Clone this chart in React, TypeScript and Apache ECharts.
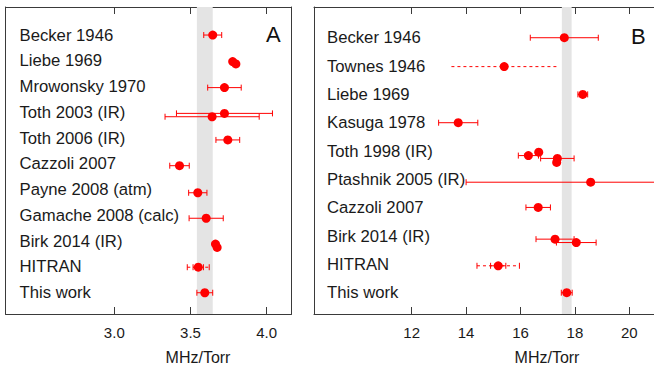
import React, { useEffect, useRef } from "react";
import * as echarts from "echarts";

// ---------- Panel A (MHz/Torr, ~3-4) ----------
const namesA = [
  "Becker 1946",
  "Liebe 1969",
  "Mrowonsky 1970",
  "Toth 2003 (IR)",
  "Toth 2006 (IR)",
  "Cazzoli 2007",
  "Payne 2008 (atm)",
  "Gamache 2008 (calc)",
  "Birk 2014 (IR)",
  "HITRAN",
  "This work",
];
const aValues = [3.646, 3.777, 3.798, 3.723, 3.723, 3.642, 3.745, 3.428, 3.548, 3.603, 3.664, 3.675, 3.551, 3.594];
const aRows = [11.0, 9.97, 9.88, 8.96, 7.96, 7.83, 6.93, 5.93, 4.88, 3.89, 2.89, 2.76, 1.99, 1.0];
const aErrors = [0.059, 0, 0, 0.11, 0.315, 0.309, 0.078, 0.064, 0.06, 0.112, 0, 0, 0.034, 0.052];
const aDashValues = [3.551];
const aDashRows = [1.99];
const aDashErrors = [0.072];
const aDashCaps = [1];
const aBand = [3.542, 3.646];
const aTicks = [3.0, 3.5, 4.0];

// ---------- Panel B (MHz/Torr, ~12-20) ----------
const namesB = [
  "Becker 1946",
  "Townes 1946",
  "Liebe 1969",
  "Kasuga 1978",
  "Toth 1998 (IR)",
  "Ptashnik 2005 (IR)",
  "Cazzoli 2007",
  "Birk 2014 (IR)",
  "HITRAN",
  "This work",
];
const bValues = [17.61, 15.4, 18.29, 13.71, 16.29, 16.67, 17.355, 17.33, 18.58, 16.65, 17.27, 18.05, 15.18, 17.7];
const bRows = [10.0, 8.98, 8.0, 7.0, 5.84, 5.96, 5.74, 5.6, 4.9, 4.01, 2.89, 2.77, 1.95, 1.0];
const bErrors = [1.25, 0, 0.18, 0.72, 0.37, 0, 0.615, 0, 4.58, 0.45, 0.7, 0.73, 0.28, 0.2];
const bDashValues = [15.4, 15.18];
const bDashRows = [8.98, 1.95];
const bDashErrors = [1.94, 0.78];
const bDashCaps = [0, 1];
const bBand = [17.52, 17.88];
const bTicks = [12, 14, 16, 18, 20];

const axisColor = "#3a3a3a";
const textColor = "#1a1a1a";
const font = "Liberation Sans, Arial, sans-serif";

function makeErrRender(dashed: boolean) {
  return (params: any, api: any) => {
    const x = api.value(0);
    const y = api.value(1);
    const e = api.value(2);
    const cap = api.value(3);
    if (!e) return { type: "group", children: [] };
    const p1 = api.coord([x - e, y]);
    const p2 = api.coord([x + e, y]);
    const style: any = { stroke: "#ff0000", lineWidth: 1, fill: null };
    if (dashed) style.lineDash = [3, 3];
    const children: any[] = [
      { type: "line", shape: { x1: p1[0], y1: p1[1], x2: p2[0], y2: p2[1] }, style },
    ];
    if (cap) {
      const h = 3;
      const cs = { stroke: "#ff0000", lineWidth: 1 };
      children.push({ type: "line", shape: { x1: p1[0], y1: p1[1] - h, x2: p1[0], y2: p1[1] + h }, style: cs });
      children.push({ type: "line", shape: { x1: p2[0], y1: p2[1] - h, x2: p2[0], y2: p2[1] + h }, style: cs });
    }
    return { type: "group", children };
  };
}

export default function App() {
  const ref = useRef<HTMLDivElement>(null);
  useEffect(() => {
    if (!ref.current) return;
    const prevOverflow = document.body.style.overflow;
    document.body.style.overflow = "hidden";
    const chart = echarts.init(ref.current, undefined, { renderer: "svg" });

    const aPoints = aValues.map((v, i) => [v, aRows[i]]);
    const aErr = aValues.map((v, i) => [v, aRows[i], aErrors[i], 1]);
    const aDash = aDashValues.map((v, i) => [v, aDashRows[i], aDashErrors[i], aDashCaps[i]]);
    const bPoints = bValues.map((v, i) => [v, bRows[i]]);
    const bErr = bValues.map((v, i) => [v, bRows[i], bErrors[i], 1]);
    const bDash = bDashValues.map((v, i) => [v, bDashRows[i], bDashErrors[i], bDashCaps[i]]);

    const bottomX = (gridIndex: number, min: number, max: number, ticks: number[], fmt: (v: number) => string) => ({
      type: "value",
      gridIndex,
      position: "bottom",
      min,
      max,
      axisLine: { show: true, onZero: false, lineStyle: { color: axisColor, width: 1 } },
      axisTick: { show: true, inside: true, length: 7, customValues: ticks, lineStyle: { color: axisColor } },
      axisLabel: {
        show: true,
        customValues: ticks,
        formatter: (v: number) => fmt(v),
        margin: 11,
        fontSize: 15,
        color: textColor,
        fontFamily: font,
      },
      splitLine: { show: false },
    });
    const topX = (gridIndex: number, min: number, max: number, ticks: number[]) => ({
      type: "value",
      gridIndex,
      position: "top",
      min,
      max,
      axisLine: { show: true, onZero: false, lineStyle: { color: axisColor, width: 1 } },
      axisTick: { show: true, inside: true, length: 7, customValues: ticks, lineStyle: { color: axisColor } },
      axisLabel: { show: false },
      splitLine: { show: false },
    });
    const rowsValuesA = namesA.map((_, i) => namesA.length - i);
    const rowsValuesB = namesB.map((_, i) => namesB.length - i);
    const bWidth = 467;
    const bMax = 8.408 + bWidth / 27.2;

    chart.setOption({
      animation: false,
      backgroundColor: "#ffffff",
      grid: [
        { left: 5.5, top: 7, width: 286, height: 307 },
        { left: 314, top: 7, width: bWidth, height: 307 },
      ],
      xAxis: [
        bottomX(0, 2.286, 4.163, aTicks, (v) => v.toFixed(1)),
        topX(0, 2.286, 4.163, aTicks),
        bottomX(1, 8.408, bMax, bTicks, (v) => String(Math.round(v))),
        topX(1, 8.408, bMax, bTicks),
      ],
      yAxis: [
        {
          type: "value",
          gridIndex: 0,
          position: "left",
          min: 0.175,
          max: 0.175 + 307 / 25.77,
          axisLine: { show: true, onZero: false, lineStyle: { color: axisColor, width: 1 } },
          axisTick: { show: false },
          axisLabel: {
            show: true,
            inside: true,
            margin: 14,
            customValues: rowsValuesA,
            formatter: (v: number) => namesA[namesA.length - Math.round(v)] ?? "",
            fontSize: 16.7,
            color: textColor,
            fontFamily: font,
          },
          splitLine: { show: false },
        },
        {
          type: "value",
          gridIndex: 0,
          position: "right",
          min: 0.175,
          max: 0.175 + 307 / 25.77,
          axisLine: { show: true, onZero: false, lineStyle: { color: axisColor, width: 1 } },
          axisTick: { show: false },
          axisLabel: { show: false },
          splitLine: { show: false },
        },
        {
          type: "value",
          gridIndex: 1,
          position: "left",
          min: 0.248,
          max: 0.248 + 307 / 28.33,
          axisLine: { show: true, onZero: false, lineStyle: { color: axisColor, width: 1 } },
          axisTick: { show: false },
          axisLabel: {
            show: true,
            inside: true,
            margin: 13,
            customValues: rowsValuesB,
            formatter: (v: number) => namesB[namesB.length - Math.round(v)] ?? "",
            fontSize: 16.7,
            color: textColor,
            fontFamily: font,
          },
          splitLine: { show: false },
        },
      ],
      series: [
        {
          type: "custom",
          xAxisIndex: 0,
          yAxisIndex: 0,
          renderItem: makeErrRender(true),
          data: aDash,
          z: 2,
          markArea: {
            silent: true,
            itemStyle: { color: "#e4e4e4" },
            data: [[{ xAxis: aBand[0] }, { xAxis: aBand[1] }]],
            z: 1,
          },
        },
        { type: "custom", xAxisIndex: 0, yAxisIndex: 0, renderItem: makeErrRender(false), data: aErr, z: 3 },
        {
          type: "scatter",
          xAxisIndex: 0,
          yAxisIndex: 0,
          data: aPoints,
          symbolSize: 9,
          itemStyle: { color: "#ff0000", opacity: 1 },
          z: 4,
        },
        {
          type: "custom",
          xAxisIndex: 2,
          yAxisIndex: 2,
          renderItem: makeErrRender(true),
          data: bDash,
          z: 2,
          markArea: {
            silent: true,
            itemStyle: { color: "#e4e4e4" },
            data: [[{ xAxis: bBand[0] }, { xAxis: bBand[1] }]],
            z: 1,
          },
        },
        { type: "custom", xAxisIndex: 2, yAxisIndex: 2, renderItem: makeErrRender(false), data: bErr, z: 3 },
        {
          type: "scatter",
          xAxisIndex: 2,
          yAxisIndex: 2,
          data: bPoints,
          symbolSize: 9,
          itemStyle: { color: "#ff0000", opacity: 1 },
          z: 4,
        },
      ],
      graphic: [
        { type: "text", left: 266, top: 23, style: { text: "A", fontSize: 22, fill: "#111", fontFamily: font } },
        { type: "text", left: 631, top: 25, style: { text: "B", fontSize: 22, fill: "#111", fontFamily: font } },
        {
          type: "text",
          x: 198,
          y: 357,
          style: { text: "MHz/Torr", fontSize: 16, fill: textColor, fontFamily: font, align: "center", verticalAlign: "middle" },
        },
        {
          type: "text",
          x: 547,
          y: 357,
          style: { text: "MHz/Torr", fontSize: 16, fill: textColor, fontFamily: font, align: "center", verticalAlign: "middle" },
        },
        { type: "rect", z: 100, shape: { x: 651, y: 9, width: 6, height: 170 }, style: { fill: "#ffffff" } },
        { type: "rect", z: 100, shape: { x: 651, y: 186, width: 6, height: 126 }, style: { fill: "#ffffff" } },
      ],
    });
    return () => {
      chart.dispose();
      document.body.style.overflow = prevOverflow;
    };
  }, []);
  return <div ref={ref} style={{ position: "absolute", left: 0, top: 0, width: 800, height: 370 }} />;
}
